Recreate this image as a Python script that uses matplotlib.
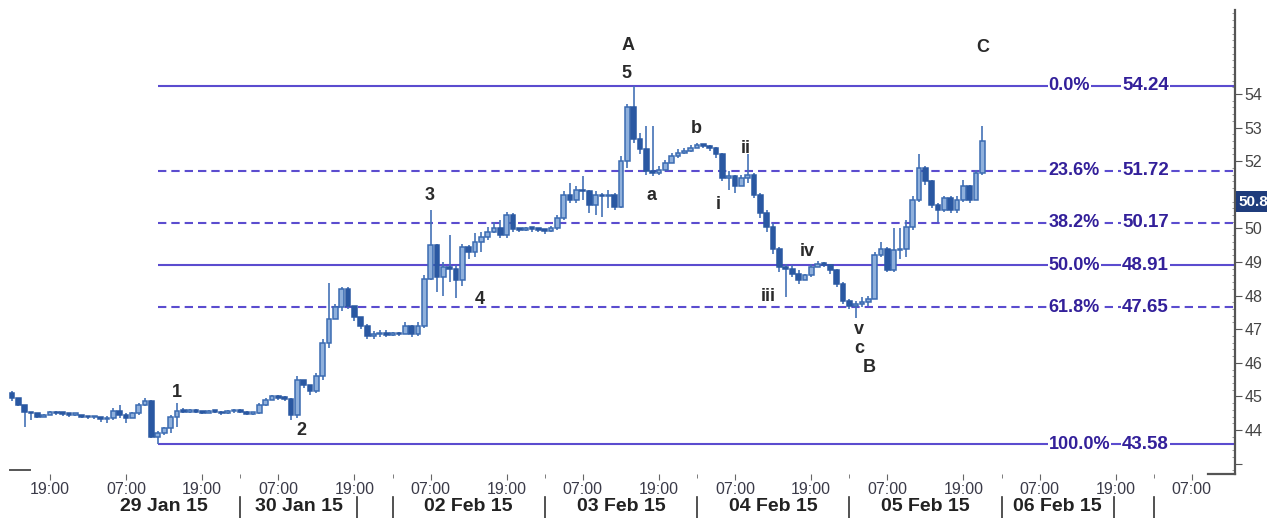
import numpy as np
import matplotlib
matplotlib.use("Agg")
from matplotlib import pyplot as plt
from matplotlib import transforms

plt.rcParams["font.family"] = ["Liberation Sans", "DejaVu Sans"]

# hourly candles, x = trading hours from 28 Jan 19:00
hours = np.arange(-6, 148)
first_open = 45.10
closes = [
    44.95, 44.75, 44.55, 44.50, 44.40, 44.45,                                # -6..-1
    44.55, 44.50, 44.48, 44.45, 44.46, 44.40, 44.38, 44.38, 44.32, 44.35,    # 0..9
    44.58, 44.45, 44.35, 44.50, 44.75, 44.85, 43.80, 43.90, 44.05, 44.40,    # 10..19
    44.58, 44.55, 44.60, 44.55, 44.52, 44.57, 44.55, 44.50, 44.56, 44.60,    # 20..29
    44.55, 44.48, 44.50, 44.75, 44.90, 45.00, 44.95, 44.92, 44.45, 45.50,    # 30..39
    45.35, 45.15, 45.60, 46.60, 47.30, 47.65, 48.20, 47.70, 47.35, 47.10,    # 40..49
    46.80, 46.85, 46.90, 46.82, 46.88, 46.85, 47.10, 46.85, 47.10, 48.50,    # 50..59
    49.50, 48.55, 48.85, 48.80, 48.45, 49.45, 49.30, 49.60, 49.75, 49.90,    # 60..69
    50.00, 49.80, 50.40, 49.98, 49.95, 50.00, 49.98, 49.95, 49.92, 50.00,    # 70..79
    50.30, 51.00, 50.85, 51.15, 51.10, 50.70, 51.00, 50.95, 51.00, 50.65,    # 80..89
    52.00, 53.60, 52.65, 52.35, 51.70, 51.65, 51.75, 51.95, 52.15, 52.25,    # 90..99
    52.30, 52.40, 52.48, 52.45, 52.40, 52.20, 51.50, 51.55, 51.25, 51.50,    # 100..109
    51.60, 51.00, 50.45, 50.05, 49.40, 48.85, 48.80, 48.65, 48.45, 48.60,    # 110..119
    48.85, 48.95, 48.92, 48.75, 48.35, 47.85, 47.70, 47.75, 47.80, 47.90,    # 120..129
    49.20, 49.40, 48.75, 49.35, 49.38, 50.05, 50.85, 51.80, 51.40, 50.70,    # 130..139
    50.55, 50.90, 50.55, 50.85, 51.25, 50.85, 51.65, 52.60,                  # 140..147
]
highs = [
    45.15, 44.90, 44.70, 44.55, 44.50, 44.48,
    44.58, 44.58, 44.55, 44.52, 44.48, 44.46, 44.42, 44.40, 44.40, 44.42,
    44.65, 44.75, 44.50, 44.55, 44.80, 44.95, 44.90, 43.98, 44.10, 44.45,
    44.80, 44.65, 44.64, 44.62, 44.58, 44.60, 44.60, 44.56, 44.60, 44.64,
    44.62, 44.58, 44.54, 44.80, 44.95, 45.05, 45.05, 45.00, 44.95, 45.60,
    45.50, 45.30, 45.70, 46.70, 48.37, 47.75, 48.25, 48.25, 47.65, 47.35,
    47.15, 46.95, 46.98, 46.98, 46.92, 46.92, 47.20, 47.12, 47.20, 48.60,
    50.55, 49.55, 49.00, 49.80, 48.90, 49.55, 49.50, 49.85, 49.90, 50.05,
    50.20, 50.25, 50.50, 50.45, 50.02, 50.05, 50.05, 50.00, 49.98, 50.08,
    50.40, 51.10, 51.35, 51.25, 51.55, 51.15, 51.10, 51.05, 51.15, 51.05,
    52.15, 53.70, 54.24, 52.85, 53.05, 53.05, 51.85, 52.05, 52.25, 52.35,
    52.38, 52.48, 52.55, 52.52, 52.48, 52.42, 52.25, 51.70, 51.60, 51.60,
    52.20, 51.65, 51.05, 50.55, 50.15, 49.45, 48.95, 48.90, 48.75, 48.65,
    48.95, 49.02, 49.00, 48.95, 48.80, 48.40, 47.90, 47.85, 47.95, 48.00,
    49.30, 49.60, 49.45, 50.00, 50.00, 50.25, 50.95, 52.20, 51.85, 51.45,
    50.75, 50.95, 50.95, 50.95, 51.45, 51.30, 51.75, 53.05,
]
lows = [
    44.85, 44.70, 44.10, 44.30, 44.35, 44.38,
    44.45, 44.45, 44.42, 44.40, 44.42, 44.36, 44.34, 44.34, 44.25, 44.20,
    44.30, 44.35, 44.20, 44.35, 44.45, 44.70, 43.75, 43.58, 43.85, 43.90,
    44.10, 44.50, 44.52, 44.50, 44.48, 44.50, 44.50, 44.46, 44.48, 44.52,
    44.50, 44.44, 44.44, 44.48, 44.72, 44.88, 44.90, 44.85, 44.30, 44.35,
    45.25, 45.05, 45.10, 45.50, 46.45, 47.30, 47.55, 47.60, 47.25, 47.00,
    46.70, 46.70, 46.78, 46.76, 46.80, 46.80, 46.85, 46.78, 46.80, 47.05,
    48.45, 48.10, 47.98, 48.40, 47.93, 48.30, 49.10, 49.15, 49.30, 49.65,
    49.85, 49.70, 49.70, 49.90, 49.88, 49.92, 49.90, 49.88, 49.82, 49.88,
    49.95, 50.25, 50.75, 50.75, 50.85, 50.45, 50.40, 50.35, 50.60, 50.55,
    50.60, 51.80, 52.55, 52.20, 51.60, 51.55, 51.60, 51.75, 51.95, 52.10,
    52.20, 52.28, 52.38, 52.38, 52.30, 52.10, 51.40, 51.15, 51.05, 51.25,
    51.35, 50.90, 50.30, 49.90, 49.25, 48.70, 47.95, 48.55, 48.35, 48.45,
    48.55, 48.85, 48.86, 48.65, 48.25, 47.75, 47.60, 47.33, 47.65, 47.70,
    47.90, 49.15, 48.70, 48.70, 49.10, 49.15, 49.95, 50.80, 51.30, 50.60,
    50.20, 50.50, 50.45, 50.45, 50.80, 50.75, 50.85, 51.60,
]

fib_pct = ["0.0%", "23.6%", "38.2%", "50.0%", "61.8%", "100.0%"]
fib_val = [54.24, 51.72, 50.17, 48.91, 47.65, 43.58]
fib_dashed = [False, True, True, False, True, False]
fib_start = 17

waves = ["1", "2", "3", "4", "5", "A", "a", "b", "i", "ii", "iii", "iv", "v", "c", "B", "C"]
wave_t = [20.0, 39.7, 59.9, 67.8, 90.8, 91.1, 94.8, 101.9, 105.3, 109.7,
          113.2, 119.3, 127.5, 127.5, 129.1, 147.1]
wave_y = [45.13, 44.0, 50.99, 47.87, 54.62, 55.43, 50.99, 52.98, 50.70, 52.39,
          47.97, 49.31, 47.0, 46.44, 45.85, 55.37]

tick_pos = np.arange(0, 181, 12)
tick_lab = ["19:00", "07:00"] * 8
day_names = ["29 Jan 15", "30 Jan 15", "02 Feb 15", "03 Feb 15",
             "04 Feb 15", "05 Feb 15", "06 Feb 15"]
day_centers = [18, 39.2, 66, 90, 114, 138, 158.8]
day_bars = [30, 48.4, 54, 78, 102, 126, 150, 167.8, 174]
day_dots = [30, 54, 78, 102, 126, 150, 174]
last_price = 50.8

# colours
UP_FACE, UP_EDGE = "#8fb0dc", "#3b6bb2"
DN_FACE = "#2a58a2"
FIB_LINE, FIB_TEXT = "#5b4ccf", "#33209a"

fig = plt.figure(figsize=(12.67, 5.18), dpi=100)
ax = fig.add_axes([0.0, 0.0849, 0.9747, 0.8958])
ax.set_xlim(-7.88, 186.8)
ax.set_ylim(42.69, 56.5)

# candles
closes = np.array(closes)
opens = np.concatenate(([first_open], closes[:-1]))
hi = np.maximum(highs, np.maximum(opens, closes))
lo = np.minimum(lows, np.minimum(opens, closes))
up = closes >= opens
ax.vlines(hours, lo, hi, color="#4472b6", lw=1.2, zorder=3)
body_lo = np.minimum(opens, closes)
body_h = np.maximum(np.abs(closes - opens), 0.05)
ax.bar(hours[up], body_h[up], bottom=body_lo[up], width=0.74,
       color=UP_FACE, edgecolor=UP_EDGE, lw=1.1, zorder=4)
ax.bar(hours[~up], body_h[~up], bottom=body_lo[~up], width=0.74,
       color=DN_FACE, edgecolor=DN_FACE, lw=1.1, zorder=4)

# fibonacci levels
xmax = ax.get_xlim()[1]
for pct, v, dashed in zip(fib_pct, fib_val, fib_dashed):
    ls = (0, (4, 2.4)) if dashed else "-"
    ax.hlines(v, fib_start, xmax, colors=FIB_LINE, lw=1.5, linestyles=ls, zorder=2)
    box = dict(facecolor="white", edgecolor="none", pad=0.6)
    ax.text(157.4, v, pct, ha="left", va="center", fontsize=13, fontweight="bold",
            color=FIB_TEXT, bbox=box, zorder=5)
    ax.text(169.0, v, "%.2f" % v, ha="left", va="center", fontsize=13.5,
            fontweight="bold", color=FIB_TEXT, bbox=box, zorder=5)

# wave count
for lab, t, y in zip(waves, wave_t, wave_y):
    ax.text(t, y, lab, ha="center", va="center", fontsize=13, fontweight="bold",
            color="#2a2a2a", zorder=6)

# axes look
for side in ("top", "left", "bottom"):
    ax.spines[side].set_visible(False)
ax.spines["right"].set_color("#555555")
ax.spines["right"].set_linewidth(1.6)
ax.yaxis.tick_right()
ax.set_yticks(np.arange(43, 55))
# 43 has no label, 51 sits under the last-price box
ax.set_yticklabels(["" if v in (43, 51) else str(v) for v in range(43, 55)])
ax.set_yticks(np.arange(42.8, 56.5, 0.2), minor=True)
ax.tick_params(axis="y", which="major", length=5, color="#555555",
               labelsize=11.5, labelcolor="#444444", pad=2)
ax.tick_params(axis="y", which="minor", length=2.5, direction="in", color="#888888")

ax.set_xticks(tick_pos)
ax.set_xticklabels(tick_lab)
ax.set_xticks(day_dots, minor=True)
ax.tick_params(axis="x", which="major", length=4, color="#666666",
               labelsize=11.5, labelcolor="#3a3a48", pad=2)
ax.tick_params(axis="x", which="minor", length=3, color="#666666")

xt = ax.get_xaxis_transform()
for name, c in zip(day_names, day_centers):
    ax.text(c, -0.069, name, transform=xt, ha="center", va="center",
            fontsize=14, fontweight="bold", color="#222222", clip_on=False)
for b in day_bars:
    ax.plot([b, b], [-0.05, -0.095], transform=xt, color="#333333", lw=1.2,
            clip_on=False)

# small stubs of the frame
ax.plot([-6.3, -3.15], [0.0086, 0.0086], transform=xt, color="#555555", lw=1.4,
        clip_on=False)
ax.plot([182.5, xmax], [0, 0], transform=xt, color="#555555", lw=1.6, clip_on=False)

# last price marker
yt = transforms.blended_transform_factory(ax.transAxes, ax.transData)
ax.text(1.003, last_price, "%.1f" % last_price, transform=yt, ha="left", va="center",
        fontsize=11, fontweight="bold", color="white", clip_on=False, zorder=10,
        bbox=dict(facecolor="#1f3c7c", edgecolor="none", pad=2.2))

fig.savefig("out.png", dpi=100)
